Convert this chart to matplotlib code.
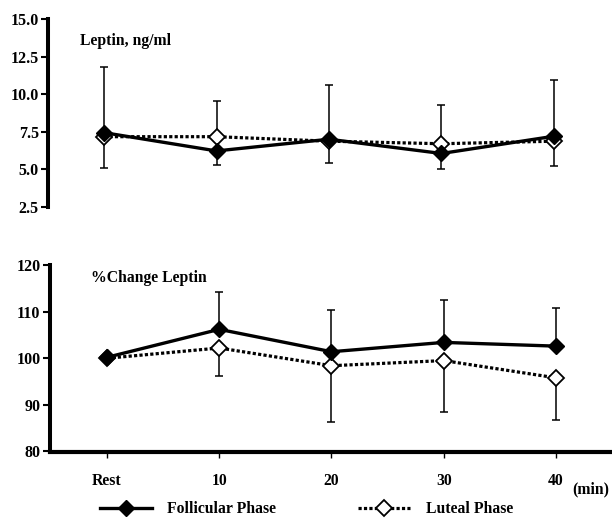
import numpy as np
import matplotlib.pyplot as plt
from matplotlib.lines import Line2D

plt.rcParams['font.family'] = ['Liberation Serif', 'DejaVu Serif']
plt.rcParams['font.weight'] = 'bold'

times = ["Rest", "10", "20", "30", "40"]

# Leptin, ng/ml
leptin_fol = np.array([7.44, 6.22, 7.0, 6.05, 7.2])
leptin_fol_up = np.array([11.84, 9.57, 10.6, 9.27, 10.92])
leptin_lut = np.array([7.17, 7.17, 6.87, 6.7, 6.87])
leptin_lut_lo = np.array([5.06, 5.29, 5.42, 5.04, 5.24])

# %Change Leptin
pct_fol = np.array([100.2, 106.2, 101.4, 103.4, 102.6])
pct_fol_up = np.array([100.2, 114.2, 110.3, 112.5, 110.7])
pct_lut = np.array([100.0, 102.2, 98.4, 99.5, 95.8])
pct_lut_lo = np.array([100.0, 96.3, 86.4, 88.4, 86.7])

x = np.arange(len(times))
lut_ls = (0, (1, 0.7))

fig = plt.figure(figsize=(6.12, 5.18), dpi=100)
ax1 = fig.add_axes([48/612, 1 - 206.7/518, 1 - 48/612, 187.4/518])
ax2 = fig.add_axes([49.5/612, 1 - 451.5/518, 1 - 49.5/612, 186.5/518])


def draw(ax, fol, fol_up, lut, lut_lo):
    # follicular bars go up, luteal bars go down
    ax.errorbar(x, fol, yerr=[np.zeros_like(fol), fol_up - fol], fmt='none',
                ecolor='black', elinewidth=1.1, capsize=3, capthick=1.1, zorder=1)
    ax.errorbar(x, lut, yerr=[lut - lut_lo, np.zeros_like(lut)], fmt='none',
                ecolor='black', elinewidth=1.1, capsize=3, capthick=1.1, zorder=1)
    ax.plot(x, lut, color='black', lw=2.3, ls=lut_ls, marker='D',
            markersize=8, markerfacecolor='white', markeredgecolor='black',
            markeredgewidth=1.3, zorder=3)
    ax.plot(x, fol, color='black', lw=2.4, ls='-', marker='D',
            markersize=8, markerfacecolor='black', markeredgecolor='black', zorder=4)
    ax.spines['right'].set_visible(False)
    ax.spines['top'].set_visible(False)
    ax.spines['left'].set_linewidth(2.9)
    ax.tick_params(axis='y', direction='out', length=5, width=1.5, labelsize=11.5, pad=1.5)


draw(ax1, leptin_fol, leptin_fol_up, leptin_lut, leptin_lut_lo)
ax1.set_xlim(-0.498, 4.516)
ax1.set_ylim(2.5, 15.0)
ax1.set_yticks([2.5, 5.0, 7.5, 10.0, 12.5, 15.0])
ax1.set_yticklabels(["2.5", "5.0", "7.5", "10.0", "12.5", "15.0"], fontweight='bold')
ax1.spines['bottom'].set_visible(False)
ax1.set_xticks([])
ax1.text(0.057, 0.884, "Leptin, ng/ml", transform=ax1.transAxes, fontsize=11.3,
         fontweight='bold', va='center')

draw(ax2, pct_fol, pct_fol_up, pct_lut, pct_lut_lo)
ax2.set_xlim(-0.512, 4.499)
ax2.set_ylim(80, 120)
ax2.set_yticks([80, 90, 100, 110, 120])
ax2.set_yticklabels(["80", "90", "100", "110", "120"], fontweight='bold')
ax2.spines['bottom'].set_linewidth(3)
ax2.set_xticks(x)
ax2.set_xticklabels(times, fontweight='bold', fontsize=11.3)
ax2.tick_params(axis='x', direction='out', length=4.5, width=1, pad=11)
ax2.text(0.074, 0.93, "%Change Leptin", transform=ax2.transAxes, fontsize=11.3,
         fontweight='bold', va='center')
ax2.annotate("(min)", xy=(4, 80), xycoords='data', xytext=(12, -27),
             textcoords='offset points', fontsize=11.3, fontweight='bold',
             ha='left', va='center')

handles = [
    Line2D([], [], color='black', lw=2.4, marker='D', markersize=8,
           markerfacecolor='black'),
    Line2D([], [], color='black', lw=2.3, ls=lut_ls, marker='D', markersize=8,
           markerfacecolor='white', markeredgewidth=1.3),
]
fig.legend(handles, ["Follicular Phase", "Luteal Phase"], loc='center left',
           bbox_to_anchor=(100/612, 1 - 509/518), ncol=2, frameon=False,
           borderpad=0, borderaxespad=0, handlelength=3.3, handletextpad=1.0,
           columnspacing=5.2, prop={'weight': 'bold', 'size': 11.3})

fig.savefig("out.png", dpi=100)
